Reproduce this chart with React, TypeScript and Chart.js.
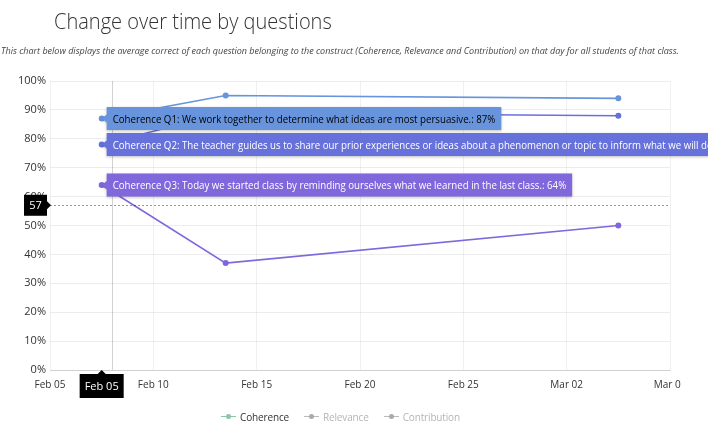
import React, { useEffect, useRef } from "react";
import { Chart, registerables } from "chart.js";

Chart.register(...registerables);

// ---------- data ----------
const BASE_DATE = "2021-02-05";
const END_DATE = "2021-03-07";
const pointDates = ["2021-02-07", "2021-02-13", "2021-03-04"];
const questionNames = [
  "Coherence Q1: We work together to determine what ideas are most persuasive.",
  "Coherence Q2: The teacher guides us to share our prior experiences or ideas about a phenomenon or topic to inform what we will do.",
  "Coherence Q3: Today we started class by reminding ourselves what we learned in the last class.",
];
const q1Values = [87, 95, 94];
const q2Values = [78, 89, 88];
const q3Values = [64, 37, 50];
const seriesValues = [q1Values, q2Values, q3Values];
const seriesColors = ["#6794dc", "#6771dc", "#8067dc"];
const tooltipTextColors = ["#000000", "#ffffff", "#ffffff"];
const monthNames = ["Jan", "Feb", "Mar", "Apr", "May", "Jun", "Jul", "Aug", "Sep", "Oct", "Nov", "Dec"];
const yTickStep = 10;
const xTickStepDays = 5;
const legendNames = ["Coherence", "Relevance", "Contribution"];
const legendActive = [true, false, false];
const cursorDate = "2021-02-08";
const cursorValue = 57;
const cursorDateLabel = "Feb 05";

const DAY = 86400000;
const toMs = (d: string) => Date.parse(d + "T00:00:00Z");
const dayOffset = (d: string) => (toMs(d) - toMs(BASE_DATE)) / DAY;
const fmtDay = (v: number) => {
  const dt = new Date(toMs(BASE_DATE) + v * DAY);
  return monthNames[dt.getUTCMonth()] + " " + String(dt.getUTCDate()).padStart(2, "0");
};

const FONT = "'Open Sans', 'Noto Sans', sans-serif";
const TIP_SCALE = 0.88;

const overlayPlugin = {
  id: "overlay",
  beforeDraw(chart: any) {
    const ctx = chart.ctx;
    ctx.save();
    ctx.beginPath();
    ctx.rect(0, 0, 681, chart.height);
    ctx.clip();
  },
  afterDatasetsDraw(chart: any) {
    chart.ctx.restore();
  },
  afterDraw(chart: any) {
    const ctx = chart.ctx;
    const { left, right, top, bottom } = chart.chartArea;
    const xs = chart.scales.x;
    const ys = chart.scales.y;
    const cx = xs.getPixelForValue(dayOffset(cursorDate));
    const cy = ys.getPixelForValue(cursorValue);
    // crosshair
    ctx.save();
    ctx.lineWidth = 1;
    ctx.strokeStyle = "rgba(0,0,0,0.18)";
    ctx.beginPath();
    ctx.moveTo(Math.round(cx) + 0.5, top);
    ctx.lineTo(Math.round(cx) + 0.5, bottom);
    ctx.stroke();
    ctx.setLineDash([2, 2]);
    ctx.strokeStyle = "rgba(0,0,0,0.4)";
    ctx.beginPath();
    ctx.moveTo(left, Math.round(cy) + 0.5);
    ctx.lineTo(right, Math.round(cy) + 0.5);
    ctx.stroke();
    ctx.restore();

    // y cursor label
    ctx.save();
    ctx.fillStyle = "#000";
    const yl = 24, yr = 47, yh = 21;
    ctx.fillRect(yl, cy - yh / 2, yr - yl, yh);
    ctx.beginPath();
    ctx.moveTo(yr, cy - 4);
    ctx.lineTo(yr + 4, cy);
    ctx.lineTo(yr, cy + 4);
    ctx.fill();
    ctx.fillStyle = "#fff";
    ctx.font = "11px " + FONT;
    ctx.textAlign = "center";
    ctx.textBaseline = "middle";
    ctx.fillText(String(cursorValue), (yl + yr) / 2, cy + 1);
    ctx.restore();

    // x cursor label (at first data point)
    const p0x = chart.getDatasetMeta(0).data[0].x;
    ctx.save();
    ctx.font = "11px " + FONT;
    const tw = ctx.measureText(cursorDateLabel).width;
    const bw = tw + 10, bh = 24, bt = bottom + 4;
    ctx.fillStyle = "#000";
    ctx.fillRect(p0x - bw / 2, bt, bw, bh);
    ctx.beginPath();
    ctx.moveTo(p0x - 4, bt);
    ctx.lineTo(p0x, bt - 4);
    ctx.lineTo(p0x + 4, bt);
    ctx.fill();
    ctx.fillStyle = "#fff";
    ctx.textAlign = "center";
    ctx.textBaseline = "middle";
    ctx.fillText(cursorDateLabel, p0x, bt + bh / 2 + 1);
    ctx.restore();

    // tooltips
    seriesValues.forEach((vals, i) => {
      const pt = chart.getDatasetMeta(i).data[0];
      const px = pt.x, py = pt.y;
      const text = questionNames[i] + ": " + vals[0] + "%";
      ctx.save();
      ctx.font = "11px " + FONT;
      const w = ctx.measureText(text).width * TIP_SCALE + 12;
      const h = 23;
      const bx = px + 5;
      const by = py - h / 2;
      ctx.shadowColor = "rgba(0,0,0,0.25)";
      ctx.shadowBlur = 3;
      ctx.shadowOffsetY = 1;
      ctx.fillStyle = seriesColors[i];
      ctx.beginPath();
      ctx.moveTo(px, py);
      ctx.lineTo(bx, py - 4);
      ctx.lineTo(bx, by);
      ctx.lineTo(bx + w, by);
      ctx.lineTo(bx + w, by + h);
      ctx.lineTo(bx, by + h);
      ctx.lineTo(bx, py + 4);
      ctx.closePath();
      ctx.fill();
      ctx.shadowColor = "transparent";
      ctx.fillStyle = tooltipTextColors[i];
      ctx.textBaseline = "middle";
      ctx.textAlign = "left";
      ctx.translate(bx + 6, py + 1);
      ctx.scale(TIP_SCALE, 1);
      ctx.fillText(text, 0, 0);
      ctx.restore();
    });
  },
};

export default function App() {
  const ref = useRef<HTMLCanvasElement | null>(null);
  useEffect(() => {
    if (!ref.current) return;
    const xVals = pointDates.map((d) => dayOffset(d) + 0.5);
    const chart = new Chart(ref.current, {
      type: "line",
      data: {
        datasets: seriesValues.map((vals, i) => ({
          label: questionNames[i],
          data: vals.map((v, j) => ({ x: xVals[j], y: v })),
          borderColor: seriesColors[i],
          backgroundColor: seriesColors[i],
          pointBackgroundColor: seriesColors[i],
          pointBorderColor: seriesColors[i],
          borderWidth: 1.6,
          pointRadius: 2.2,
          tension: 0,
        })),
      },
      options: {
        animation: false,
        responsive: false,
        maintainAspectRatio: false,
        layout: { padding: { top: 81, right: 38, left: 0, bottom: 0 } },
        scales: {
          x: {
            type: "linear",
            min: 0,
            max: dayOffset(END_DATE),
            afterFit: (s: any) => {
              s.height = 55;
            },
            ticks: {
              stepSize: xTickStepDays,
              autoSkip: false,
              maxRotation: 0,
              padding: 9,
              color: "#333",
              font: { size: 10, family: FONT },
              callback: (v: any) => fmtDay(Number(v)),
            },
            grid: { color: "rgba(0,0,0,0.06)", drawTicks: false },
            border: { color: "rgba(0,0,0,0.12)" },
          },
          y: {
            min: 0,
            max: 100,
            afterFit: (s: any) => {
              s.width = 50;
            },
            ticks: {
              stepSize: yTickStep,
              padding: 4,
              color: "#333",
              font: { size: 11, family: FONT },
              callback: (v: any) => v + "%",
            },
            grid: { color: "rgba(0,0,0,0.07)", drawTicks: false },
            border: { display: false },
          },
        },
        plugins: {
          legend: { display: false },
          tooltip: { enabled: false },
        },
      },
      plugins: [overlayPlugin],
    } as any);
    return () => chart.destroy();
  }, []);

  return (
    <div style={{ position: "fixed", left: 0, top: 0, width: 708, height: 425, background: "#fff", overflow: "hidden" }}>
      <canvas ref={ref} width={708} height={425} style={{ position: "absolute", left: 0, top: 0, width: 708, height: 425 }} />
      <div
        style={{
          position: "absolute",
          left: 54,
          top: 5,
          fontFamily: FONT,
          fontWeight: 300,
          fontSize: 22,
          color: "#333",
          whiteSpace: "nowrap",
          transform: "scaleX(0.91)",
          transformOrigin: "left top",
        }}
      >
        Change over time by questions
      </div>
      <div
        style={{
          position: "absolute",
          left: 1,
          top: 44,
          fontFamily: FONT,
          fontStyle: "italic",
          fontSize: 9,
          color: "#444",
          whiteSpace: "nowrap",
        }}
      >
        This chart below displays the average correct of each question belonging to the construct (Coherence, Relevance and Contribution) on that day for all students of that class.
      </div>
      <div
        style={{
          position: "absolute",
          left: 0,
          width: 681,
          top: 409,
          display: "flex",
          justifyContent: "center",
          fontFamily: FONT,
          fontSize: 10,
          letterSpacing: -0.15,
        }}
      >
        {legendNames.map((n, i) => (
          <div key={n} style={{ display: "flex", alignItems: "center", marginRight: i < legendNames.length - 1 ? 15 : 0 }}>
            <span style={{ position: "relative", display: "inline-block", width: 15, height: 15, marginRight: 4 }}>
              <span
                style={{
                  position: "absolute",
                  left: 0,
                  top: 7,
                  width: 15,
                  height: 1,
                  background: legendActive[i] ? "#8cc5a5" : "#bbb",
                }}
              />
              <span
                style={{
                  position: "absolute",
                  left: 5,
                  top: 5,
                  width: 5,
                  height: 5,
                  borderRadius: 3,
                  background: legendActive[i] ? "#8cc5a5" : "#aaa",
                }}
              />
            </span>
            <span style={{ color: legendActive[i] ? "#333" : "#b5b5b5" }}>{n}</span>
          </div>
        ))}
      </div>
    </div>
  );
}
